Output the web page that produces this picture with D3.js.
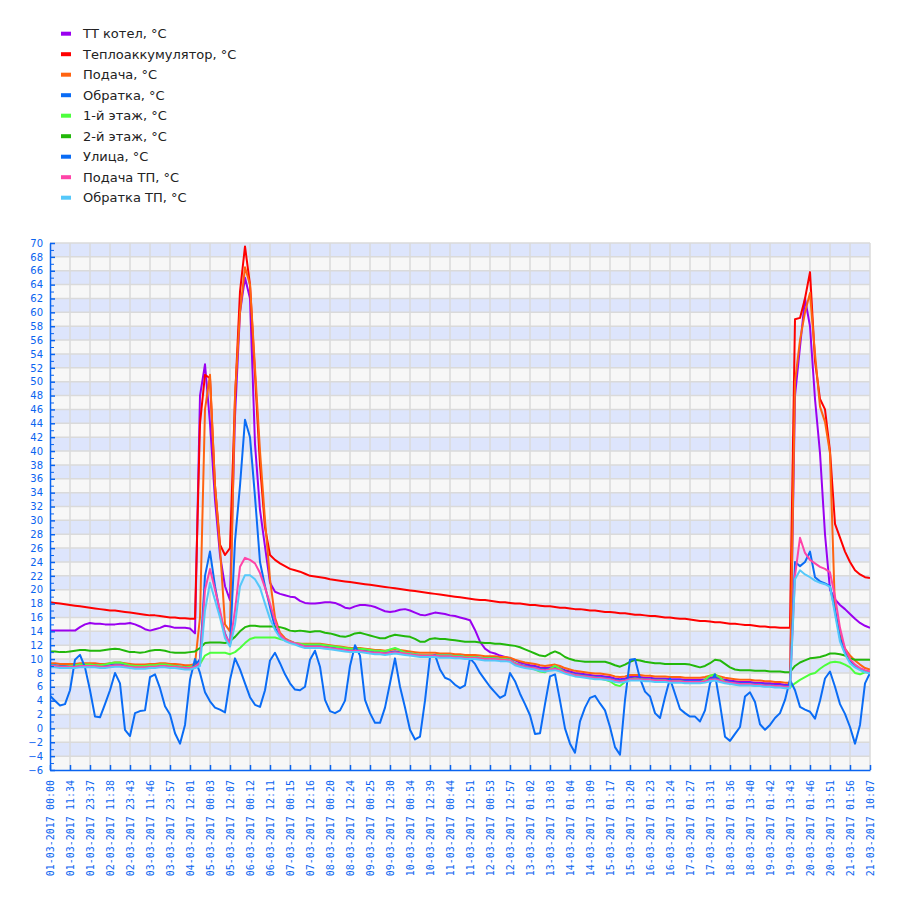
<!DOCTYPE html>
<html lang="ru">
<head>
<meta charset="UTF-8">
<title>Температуры</title>
<script src="https://d3js.org/d3.v7.min.js"></script>
<style>
  body { margin: 0; background: #fff; }
  svg { display: block; }
  .legend text { font-family: "DejaVu Sans", Verdana, sans-serif; font-size: 13px; fill: #222; }
  .axis text { fill: #0a64f0; }
  .axis path, .axis line { stroke: #0a64f0; }
  .y-axis text { font-family: "DejaVu Sans", Verdana, sans-serif; font-size: 10px; }
  .x-axis text { font-family: "DejaVu Sans Mono", monospace; font-size: 10px; }
</style>
</head>
<body>
<script>
// tick labels, one every 4 samples
const timeLabels = [
  "01-03-2017 00:00", "01-03-2017 11:34", "01-03-2017 23:37", "02-03-2017 11:38",
  "02-03-2017 23:43", "03-03-2017 11:46", "03-03-2017 23:57", "04-03-2017 12:01",
  "05-03-2017 00:03", "05-03-2017 12:07", "06-03-2017 00:12", "06-03-2017 12:11",
  "07-03-2017 00:15", "07-03-2017 12:16", "08-03-2017 00:20", "08-03-2017 12:24",
  "09-03-2017 00:25", "09-03-2017 12:30", "10-03-2017 00:34", "10-03-2017 12:39",
  "11-03-2017 00:44", "11-03-2017 12:51", "12-03-2017 00:53", "12-03-2017 12:57",
  "13-03-2017 01:02", "13-03-2017 13:03", "14-03-2017 01:04", "14-03-2017 13:09",
  "15-03-2017 01:17", "15-03-2017 13:20", "16-03-2017 01:23", "16-03-2017 13:24",
  "17-03-2017 01:27", "17-03-2017 13:31", "18-03-2017 01:36", "18-03-2017 13:40",
  "19-03-2017 01:42", "19-03-2017 13:43", "20-03-2017 01:46", "20-03-2017 13:51",
  "21-03-2017 01:56", "21-03-2017 10:07"
];

const ttKotel = [
  14.1,14.1,14.1,14.1,14.1,14.1,14.6,15.0,15.2,15.1, 15.1,15.0,15.0,15.0,15.1,15.1,15.2,15.0,14.7,14.3,
  14.1,14.3,14.5,14.8,14.7,14.5,14.5,14.5,14.4,13.7,
  48,52.5,44,33,25,20.5,18.5,45,60,65,62,41,31.5,26.2,21,19.7,19.4,19.2,19.0,18.9,18.4,
  18.1,18.0,18.0,18.1,18.2,18.2,18.1,17.8,17.4,
  17.3,17.6,17.8,17.8,17.7,17.5,17.2,16.9,16.8,16.9,
  17.1,17.2,17.0,16.7,16.4,16.3,16.5,16.7,16.6,16.5,
  16.3,16.2,16.0,15.8,15.6,14.2,12.5,11.5,11.0,10.8,
  10.5,10.3,10.1,9.8,9.5,9.3,
  9.1,9.0,8.8,8.7, 8.8,8.9,8.7,8.4,8.2,8.0,7.9,7.8,7.7,7.6,
  7.6,7.5,7.4,7.2,7.1,7.2,7.4,7.4,7.4,7.3, 7.3,7.2,7.2,7.2,7.1,7.1,7.1,7.0,7.0,7.0,
  7.0,7.1,7.3,7.4,7.2,7.0,6.9,6.8,6.7,6.7, 6.7,6.6,6.6,6.5,6.5,6.4,6.4,6.3,6.3,
  48,55,62,58,47.5,39.7,28,20,18.6,17.8,17.2,16.5,15.8,15.2,14.8,14.5
];

const teploakk = [
  18.2,18.1,18.0,17.9,17.8,17.7,17.6,17.5,17.4,17.3, 17.2,17.1,17.0,17.0,16.9,16.8,16.7,16.6,16.5,16.4,
  16.3,16.3,16.2,16.1,16.0,16.0,15.9,15.9,15.8,15.8,
  44,51,50.5,35,26.5,25,26,47.5,63,69.5,64,51,38,29,25,24.3,23.8,23.4,23.0,22.8,22.6,
  22.3,22.0,21.9,21.8,21.7,21.5,21.4,21.3,21.2,
  21.1,21.0,20.9,20.8,20.7,20.6,20.5,20.4,20.3,20.2, 20.1,20.0,19.9,19.8,19.7,19.6,19.5,19.4,19.3,19.2,
  19.1,19.0,18.9,18.8,18.7,18.6,18.5,18.5,18.4,18.3, 18.2,18.2,18.1,18.0,18.0,17.9,17.8,17.8,17.7,17.6,
  17.6,17.5,17.4,17.4,17.3,17.2,17.2,17.1,17.0,17.0, 16.9,16.8,16.8,16.7,16.6,16.6,16.5,16.4,16.4,16.3,
  16.2,16.2,16.1,16.0,16.0,15.9,15.8,15.8,15.7,15.6, 15.5,15.5,15.4,15.3,15.3,15.2,15.1,15.1,15.0,14.9,
  14.9,14.8,14.7,14.7,14.6,14.6,14.5,14.5,14.5,
  59,59.2,62,65.8,53,47.5,46,40,29.5,27.5,25.5,24,22.8,22.2,21.8,21.7
];

const podacha = [
  9.4,9.4,9.3,9.3,9.3,9.3,9.4,9.4,9.4,9.4, 9.3,9.3,9.4,9.5,9.5,9.4,9.3,9.2,9.2,9.2,
  9.3,9.3,9.4,9.4,9.3,9.3,9.2,9.1,9.1,9.3,
  16,46,51,35,26,15,14,48,60,66.5,64,52,40,30,21.5,16,13.8,13.0,12.6,12.3,12.2,
  12.2,12.2,12.2,12.2,12.1,12.0,11.9,11.8,11.7, 11.6,11.6,11.6,11.5,11.4,11.3,11.3,11.2,11.3,11.4,
  11.3,11.2,11.1,11.0,10.9,10.9,10.9,10.9,10.8,10.8, 10.8,10.7,10.7,10.6,10.6,10.6,10.5,10.4,10.4,10.4,
  10.3,10.3,10.2,
  9.9,9.7,9.5,9.4,9.3,9.1,9.0, 9.1,9.2,9.0,8.7,8.5,8.3,8.2,8.1,8.0,7.9,
  7.9,7.8,7.7,7.5,7.4,7.5,7.7,7.7,7.7,7.6, 7.6,7.5,7.5,7.5,7.4,7.4,7.4,7.3,7.3,7.3,
  7.3,7.4,7.6,7.7,7.5,7.3,7.2,7.1,7.0,7.0, 7.0,6.9,6.9,6.8,6.8,6.7,6.7,6.6,6.6,
  50,56,60,62.8,54,46.4,44.2,39.7,17,13.5,11.5,10.5,9.8,9.2,8.7,8.5
];

const obratka = [
  9.1,9.1,9.0,9.0,9.0,9.0,9.1,9.1,9.1,9.1, 9.0,9.0,9.1,9.2,9.2,9.1,9.0,8.9,8.9,8.9,
  9.0,9.0,9.1,9.1,9.0,9.0,8.9,8.8,8.8,9.0,
  10,22,25.5,20.5,16.6,13.7,12.0,27,35,44.5,42,33.4,24,20.5,17.5,14.5,13.3,12.8,12.5,12.2,12.0,
  11.9,11.9,11.9,11.9,11.8,11.7,11.6,11.5,11.4, 11.3,11.3,11.3,11.2,11.1,11.0,11.0,10.9,11.0,11.1,
  11.0,10.9,10.8,10.7,10.6,10.6,10.6,10.6,10.5,10.5, 10.5,10.4,10.4,10.3,10.3,10.3,10.2,10.1,10.1,10.1,
  10.0,10.0,9.9,
  9.4,9.2,9.0,8.9,8.8,8.6,8.5, 8.6,8.7,8.5,8.2,8.0,7.8,7.7,7.6,7.5,7.4,
  7.4,7.3,7.2,7.0,6.9,7.0,7.2,7.2,7.2,7.1, 7.1,7.0,7.0,7.0,6.9,6.9,6.9,6.8,6.8,6.8,
  6.8,6.9,7.1,7.2,7.0,6.8,6.7,6.6,6.5,6.5, 6.5,6.4,6.4,6.3,6.3,6.2,6.2,6.1,6.1,
  24,23.4,24,25.5,21.8,21.2,20.9,20.5,17,13,11,9.8,9.0,8.6,8.3,8.1
];

const etazh1 = [
  9.1,9.0,8.9,8.9,9.0,9.1,9.2,9.2,9.2,9.1, 9.1,9.2,9.4,9.5,9.5,9.3,9.1,9.0,9.0,9.0,
  9.1,9.1,9.2,9.2,9.1,9.0,8.9,8.8,8.9,9.0,
  9.3,10.5,10.9,10.9,10.9,10.9,10.7,11.0,11.6,12.3,12.9,13.1,13.1,13.1,13.1,13.1,12.9,12.7,12.5,12.3,12.2,
  12.1,12.1,12.1,12.1,12.0,11.9,11.8,11.7,11.6,11.5,11.5,11.5,11.4,11.3,11.2,11.2,11.1,
  11.4,11.6,11.3,
  10.9,10.8,10.7,10.6,10.6,10.6,10.6,10.5,10.5, 10.5,10.4,10.4,10.3,10.3,10.3,10.2,10.1,10.1,10.1,
  10.0,10.0,9.9,
  9.4,9.1,8.9,8.7,8.5,8.2,8.1, 8.6,9.0,8.6,8.1,7.9,7.7,7.6,7.5,7.4,7.3,
  7.2,7.0,6.8,6.3,6.1,6.7,7.1,7.2,7.1,7.0, 7.0,6.9,6.9,6.9,6.8,6.8,6.8,6.7,6.6,6.6,
  6.6,7.0,7.6,7.8,7.3,6.7,6.5,6.4,6.3,6.3, 6.3,6.2,6.2,6.1,6.1,6.0,6.0,5.9,5.9,
  6.5,7.0,7.4,7.8,8.0,8.6,9.1,9.5,9.6,9.5,9.2,8.8,8.0,7.8,8.1,8.2
];

const etazh2 = [
  11.1,11.1,11.0,11.0,11.1,11.2,11.3,11.3,11.2,11.2, 11.2,11.3,11.4,11.5,11.4,11.2,11.0,11.0,10.9,11.0,
  11.2,11.3,11.3,11.2,11.0,10.9,10.9,10.9,11.0,11.1,
  11.6,12.3,12.4,12.4,12.4,12.3,12.6,13.2,14.0,14.6, 14.8,14.8,14.7,14.7,14.7,14.7,14.6,14.4,14.1,14.0,
  14.1,14.0,13.9,14.0,14.0,13.8,13.7,13.5,13.3,13.2, 13.4,13.7,13.8,13.6,13.4,13.2,13.0,13.0,13.3,13.5,
  13.4,13.3,13.2,12.9,12.5,12.5,12.9,13.0,12.9,12.9, 12.8,12.7,12.6,12.5,12.5,12.5,12.4,12.3,12.3,12.2,
  12.2,12.1,12.0,11.9,11.7,11.4,11.1,10.8,10.5,10.4, 10.8,11.1,10.8,10.3,10.0,9.8,9.7,9.6,9.6,9.6,
  9.6,9.6,9.4,9.1,8.9,9.2,9.6,9.9,9.8,9.6, 9.5,9.4,9.4,9.3,9.3,9.3,9.3,9.3,9.2,9.0,
  8.8,9.0,9.4,9.9,9.8,9.3,8.8,8.5,8.4,8.4, 8.4,8.3,8.3,8.3,8.2,8.2,8.2,8.1,8.1,
  9.0,9.5,9.8,10.1,10.2,10.3,10.5,10.8,10.8,10.7,10.5,10.1,9.9,9.9,9.9,9.9
];

const ulitsa = [
  4.7,4.0,3.3,3.5,5.5,9.9,10.6,8.8,5.5,1.7, 1.6,3.5,5.5,8.0,6.5,-0.2,-1.1,2.2,2.5,2.6,
  7.4,7.8,5.8,3.2,2.0,-0.7,-2.2,0.5,7.0,10.0, 8.0,5.2,3.9,3.0,2.7,2.3,7.0,10.1,8.5,6.5,
  4.5,3.4,3.1,5.5,9.8,10.9,9.4,7.8,6.5,5.6, 5.5,6.0,9.9,11.2,8.9,4.1,2.5,2.2,2.6,4.0,
  9.0,12.0,10.5,4.1,2.2,0.8,0.8,3.0,6.5,10.1, 6.0,3.0,-0.2,-1.6,-1.2,4.0,10.3,10.6,8.5,7.3,
  7.0,6.3,5.8,6.2,10.1,9.3,8.0,7.0,6.0,5.2, 4.4,4.8,8.0,6.8,5.0,3.5,1.9,-0.8,-0.7,3.5,
  7.5,7.8,4.0,0.0,-2.2,-3.5,1.0,3.0,4.4,4.7, 3.6,2.6,0.2,-2.7,-3.8,4.1,9.9,10.0,7.2,5.3,
  4.6,2.2,1.5,4.5,7.2,5.0,2.8,2.2,1.7,1.7, 1.0,2.6,6.5,7.8,3.5,-1.2,-1.8,-0.8,0.2,4.6,
  5.2,3.8,0.6,-0.2,0.5,1.5,2.2,4.1,7.0,5.5, 3.1,2.7,2.4,1.4,4.0,7.2,8.2,6.0,3.5,2.1,
  0.2,-2.2,0.5,6.5,8.0
];

const podachaTP = [
  9.0,9.0,8.9,8.9,8.9,8.9,9.0,9.0,9.0,9.0, 8.9,8.9,9.0,9.1,9.1,9.0,8.9,8.8,8.8,8.8,
  8.9,8.9,9.0,9.0,8.9,8.9,8.8,8.7,8.7,8.9,
  9.5,20,23,20,17,13.5,12.2,17,23.3,24.6,24.3,23.8,22.4,20.3,18,15.5,13.5,12.8,12.5,12.3,12.1,
  11.8,11.8,11.8,11.8,11.7,11.6,11.5,11.4,11.3, 11.2,11.2,11.2,11.1,11.0,10.9,10.9,10.8,10.9,11.0,
  10.9,10.8,10.7,10.6,10.5,10.5,10.5,10.5,10.4,10.4, 10.4,10.3,10.3,10.2,10.2,10.2,10.1,10.0,10.0,10.0,
  9.9,9.9,9.8,
  9.3,9.1,8.9,8.8,8.7,8.5,8.4, 8.5,8.6,8.4,8.1,7.9,7.7,7.6,7.5,7.4,7.3,
  7.3,7.2,7.1,6.9,6.8,6.9,7.1,7.1,7.1,7.0, 7.0,6.9,6.9,6.9,6.8,6.8,6.8,6.7,6.7,6.7,
  6.7,6.8,7.0,7.1,6.9,6.7,6.6,6.5,6.4,6.4, 6.4,6.3,6.3,6.2,6.2,6.1,6.1,6.0,6.0,
  22,27.5,25.3,24.3,23.8,23.3,23.0,22.5,19,14.5,11.5,10,9.2,8.7,8.4,8.2
];

const obratkaTP = [
  8.8,8.8,8.7,8.7,8.7,8.7,8.8,8.8,8.8,8.8, 8.7,8.7,8.8,8.9,8.9,8.8,8.7,8.6,8.6,8.6,
  8.7,8.7,8.8,8.8,8.7,8.7,8.6,8.5,8.5,8.7,
  9,17,21,18.5,16,13,11.8,15,20.5,22.1,22.1,21.5,20.3,18,15.8,14.2,13.1,12.6,12.3,12.1,11.8,
  11.6,11.6,11.6,11.6,11.5,11.4,11.3,11.2,11.1, 11.0,11.0,11.0,10.9,10.8,10.7,10.7,10.6,10.7,10.8,
  10.7,10.6,10.5,10.4,10.3,10.3,10.3,10.3,10.2,10.2, 10.2,10.1,10.1,10.0,10.0,10.0,9.9,9.8,9.8,9.8,
  9.7,9.7,9.6,
  9.1,8.9,8.7,8.6,8.5,8.3,8.2, 8.3,8.4,8.2,7.9,7.7,7.5,7.4,7.3,7.2,7.1,
  7.1,7.0,6.9,6.7,6.6,6.7,6.9,6.9,6.9,6.8, 6.8,6.7,6.7,6.7,6.6,6.6,6.6,6.5,6.5,6.5,
  6.5,6.6,6.8,6.9,6.7,6.5,6.4,6.3,6.2,6.2, 6.2,6.1,6.1,6.0,6.0,5.9,5.9,5.8,5.8,
  21.5,22.8,22.2,21.8,21.3,21.0,20.8,20.4,16.5,12.5,10.7,9.4,8.8,8.4,8.1,7.9
];

const seriesNames = ["ТТ котел, °С", "Теплоаккумулятор, °С", "Подача, °С", "Обратка, °С",
  "1-й этаж, °С", "2-й этаж, °С", "Улица, °С", "Подача ТП, °С", "Обратка ТП, °С"];
const seriesColors = ["#9a00f0", "#ff0000", "#ff6410", "#0a6cf5", "#4dff3d",
  "#22b80a", "#0a6cf5", "#ff44a8", "#55c8fa"];
const seriesValues = [ttKotel, teploakk, podacha, obratka, etazh1, etazh2, ulitsa, podachaTP, obratkaTP];

const series = seriesNames.map((name, k) => ({ name, color: seriesColors[k], values: seriesValues[k] }));

const w = 900, h = 900;
const plotLeft = 50, plotRight = 870, plotTop = 243, plotBottom = 770;

const svg = d3.select("body").append("svg")
  .attr("width", w)
  .attr("height", h);

const x = d3.scaleLinear().domain([0, ttKotel.length - 1]).range([plotLeft, plotRight]);
const y = d3.scaleLinear().domain([-6, 70]).range([plotBottom, plotTop]);

// background stripes, 2 degrees each
const bands = d3.range(-6, 70, 2);
svg.append("g").selectAll("rect")
  .data(bands)
  .enter()
  .append("rect")
  .attr("x", plotLeft)
  .attr("y", d => y(d + 2))
  .attr("width", plotRight - plotLeft)
  .attr("height", d => y(d) - y(d + 2))
  .attr("fill", d => ((68 - d) / 2) % 2 === 0 ? "#dde5fc" : "#f7f7f7");

// grid
const tickIdx = d3.range(0, ttKotel.length, 4);
const grid = svg.append("g").attr("stroke", "#dadada").attr("stroke-width", 1.5);
grid.selectAll(".hg")
  .data(d3.range(-4, 71, 2))
  .enter()
  .append("line")
  .attr("x1", plotLeft).attr("x2", plotRight)
  .attr("y1", d => y(d)).attr("y2", d => y(d));
grid.selectAll(".vg")
  .data(tickIdx.slice(1))
  .enter()
  .append("line")
  .attr("x1", d => x(d)).attr("x2", d => x(d))
  .attr("y1", plotTop).attr("y2", plotBottom);

// lines
svg.append("clipPath").attr("id", "plot")
  .append("rect").attr("x", plotLeft).attr("y", plotTop - 2)
  .attr("width", plotRight - plotLeft).attr("height", plotBottom - plotTop + 2);

const line = d3.line()
  .x((d, i) => x(i))
  .y(d => y(d));

svg.append("g").attr("clip-path", "url(#plot)")
  .selectAll("path")
  .data(series)
  .enter()
  .append("path")
  .attr("d", d => line(d.values))
  .attr("fill", "none")
  .attr("stroke", d => d.color)
  .attr("stroke-width", 2)
  .attr("stroke-linejoin", "round");

// axes
const yAxis = d3.axisLeft(y)
  .tickValues(d3.range(-6, 71, 2))
  .tickFormat(d3.format("d"))
  .tickSizeInner(-5)
  .tickSizeOuter(0)
  .tickPadding(7);
const yMinor = d3.axisLeft(y)
  .tickValues(d3.range(-5, 70, 2))
  .tickFormat("")
  .tickSizeInner(-4)
  .tickSizeOuter(0);

const yg = svg.append("g")
  .attr("class", "axis y-axis")
  .attr("transform", `translate(${plotLeft},0)`)
  .call(yAxis);
svg.append("g")
  .attr("class", "axis")
  .attr("transform", `translate(${plotLeft},0)`)
  .call(yMinor);
yg.selectAll("path, line").attr("stroke-width", 1.5);

const xAxis = d3.axisBottom(x)
  .tickValues(tickIdx)
  .tickFormat((d, i) => timeLabels[i])
  .tickSizeInner(-5)
  .tickSizeOuter(0);

const xg = svg.append("g")
  .attr("class", "axis x-axis")
  .attr("transform", `translate(0,${plotBottom})`)
  .call(xAxis);
xg.selectAll("path, line").attr("stroke-width", 1.5);
xg.selectAll("text")
  .attr("transform", "rotate(-90)")
  .attr("text-anchor", "end")
  .attr("x", -10)
  .attr("y", 0)
  .attr("dy", "0.35em");

// legend
const legend = svg.append("g").attr("class", "legend");
const rows = legend.selectAll("g")
  .data(series)
  .enter()
  .append("g")
  .attr("transform", (d, i) => `translate(61,${33.7 + i * 20.5})`);
rows.append("rect")
  .attr("x", 0).attr("y", -2)
  .attr("width", 10).attr("height", 4)
  .attr("fill", d => d.color);
rows.append("text")
  .attr("x", 22)
  .attr("y", 4.5)
  .text(d => d.name);
</script>
</body>
</html>
